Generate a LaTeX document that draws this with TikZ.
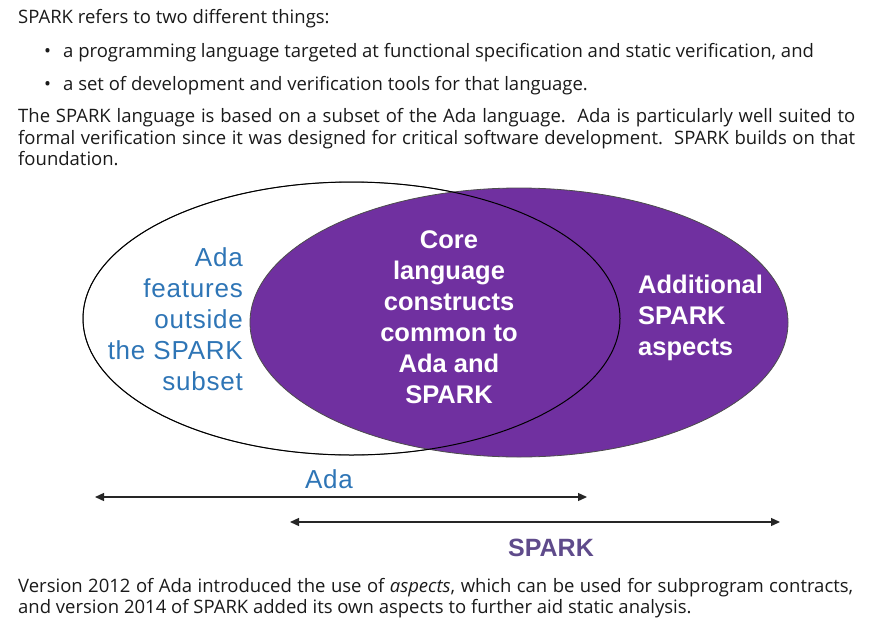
\documentclass[tikz,border=0pt]{standalone}
\usepackage{fontspec}
\setmainfont{Open Sans}
\newfontfamily\arialf{Liberation Sans}
\newfontfamily\arialsp[LetterSpace=3]{Liberation Sans}
\usetikzlibrary{arrows.meta}
\definecolor{sparkpurple}{HTML}{7030A0}
\definecolor{adablue}{HTML}{2E75B6}
\definecolor{labpurple}{HTML}{5F4B8B}
\definecolor{bodytext}{HTML}{1A1A1A}
\tikzset{
  body/.style={anchor=base west, inner sep=0pt, text=bodytext, font=\fontsize{18.5}{22}\selectfont},
  venntext/.style={inner sep=0pt, font=\arialf\bfseries\fontsize{25.5}{31}\selectfont},
  bluetext/.style={inner sep=0pt, text=adablue, font=\arialsp\fontsize{26}{31}\selectfont},
  span/.style={draw=black!85, line width=1.3pt, {Triangle[length=9pt,width=8pt]}-{Triangle[length=9pt,width=8pt]}},
}
\newcommand{\bul}{\makebox[19pt][l]{\textbullet}}
\begin{document}
\begin{tikzpicture}[x=1pt,y=-1pt]
\useasboundingbox (0,0) rectangle (882,634);
% body text
\node[body] (t1) at (18,24) {SPARK refers to two different things:};
\node[body] (b1) at (44,57) {\bul a programming language targeted at functional specification and static verification, and};
\node[body] (b2) at (44,90) {\bul a set of development and verification tools for that language.};
\node[body] (p1) at (18,122) {\makebox[837pt][s]{The SPARK language is based on a subset of the Ada language.\ \ Ada is particularly well suited to}};
\node[body] (p2) at (18,144) {\makebox[837pt][s]{formal verification since it was designed for critical software development.\ \ SPARK builds on that}};
\node[body] (p3) at (18,165) {foundation.};
\node[body] (q1) at (18,592) {\makebox[835pt][s]{Version 2012 of Ada introduced the use of \textit{aspects}, which can be used for subprogram contracts,}};
\node[body] (q2) at (18,613) {and version 2014 of SPARK added its own aspects to further aid static analysis.};
% venn
\fill[white, draw=black!80, line width=0.8pt] (351.5,318.5) ellipse [x radius=268.5, y radius=136.5];
\fill[sparkpurple, draw=black!70, line width=0.8pt] (519,322.5) ellipse [x radius=269, y radius=134.5];
\draw[black, line width=1pt] (351.5,318.5) ellipse [x radius=268.5, y radius=136.5];
\node[venntext, text=white, align=center] (core) at (449,317) {Core\\language\\constructs\\common to\\Ada and\\SPARK};
\node[venntext, text=white, align=left, anchor=west] (add) at (638,318) {Additional\\SPARK\\aspects};
\node[bluetext, align=right, anchor=east] (feat) at (243,319) {Ada\\features\\outside\\the SPARK\\subset};
% spans
\coordinate (adaL) at (95,497);
\coordinate (adaR) at (587,497);
\coordinate (spL) at (290,522);
\coordinate (spR) at (780,522);
\draw[span] (adaL) -- (adaR);
\draw[span] (spL) -- (spR);
\node[bluetext] (adalab) at (329,479) {Ada};
\node[inner sep=0pt, text=labpurple, font=\arialf\bfseries\fontsize{25}{30}\selectfont] (splab) at (551,548) {SPARK};
\end{tikzpicture}
\end{document}
